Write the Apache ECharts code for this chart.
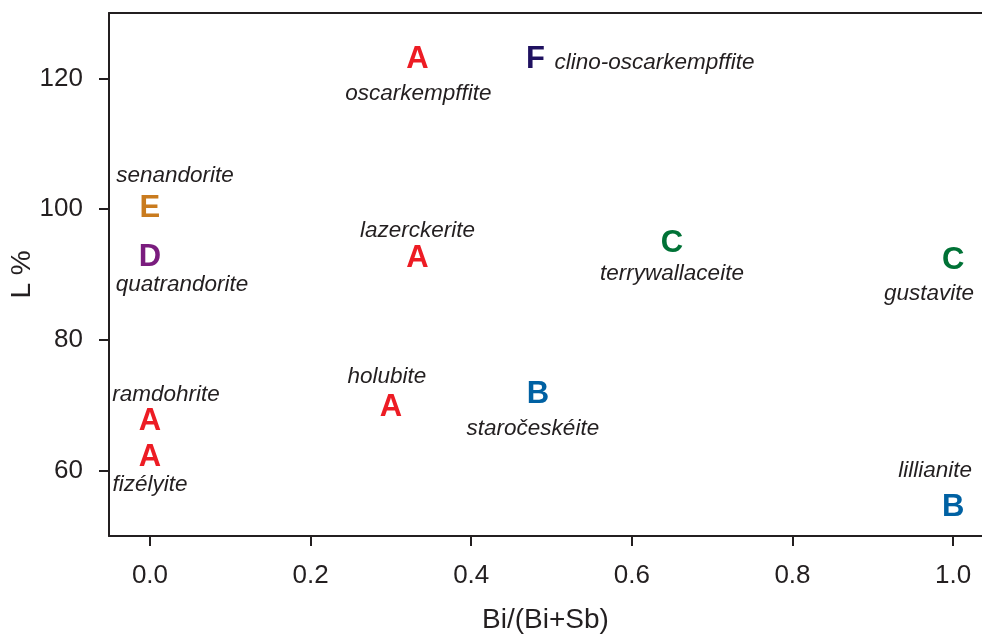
<!DOCTYPE html>
<html>
<head>
<meta charset="utf-8">
<script src="https://cdn.jsdelivr.net/npm/echarts@6/dist/echarts.min.js"></script>
<style>html,body{margin:0;padding:0;background:#fff;}#c{width:982px;height:636px;}</style>
</head>
<body>
<div id="c"></div>
<script>
// ---- data ----
const minerals = ['oscarkempffite','clino-oscarkempffite','senandorite','quatrandorite','lazerckerite','terrywallaceite','gustavite','ramdohrite','fizélyite','holubite','staročeskéite','lillianite'];
const groups = ['A','F','E','D','A','C','C','A','A','A','B','B'];
const biRatio = [0.333, 0.48, 0, 0, 0.333, 0.65, 1.0, 0, 0, 0.30, 0.483, 1.0];
const lPercent = [123.0, 123.0, 100.2, 92.8, 92.6, 94.9, 92.3, 67.7, 62.1, 69.8, 71.8, 54.5];
const xTicks = [0, 0.2, 0.4, 0.6, 0.8, 1.0];
const yTicks = [60, 80, 100, 120];

// ---- styling / layout ----
const groupColors = {A:'#ED1C24', B:'#0061A3', C:'#007236', D:'#7A1C7E', E:'#C97B1E', F:'#1F1160'};
const nameOffsets = [[1,35],[19,4],[25,-32],[32,29],[0,-27],[0,31],[-24,34],[16,-26],[0,28],[-4,-30],[-5,35],[-18,-36]];
const nameAlign = ['center','left','center','center','center','center','center','center','center','center','center','center'];
const FONT = '"Liberation Sans", Arial, Helvetica, sans-serif';

const groupKeys = ['A','B','C','D','E','F'];
const letterSeries = groupKeys.map(g => ({
  type: 'scatter',
  name: g,
  symbolSize: 0,
  silent: true,
  itemStyle: {opacity: 1},
  data: biRatio.map((x, i) => groups[i] === g ? [x, lPercent[i]] : null).filter(d => d),
  label: {
    show: true, position: 'inside', formatter: g, opacity: 1, offset: [0, 1],
    color: groupColors[g], fontFamily: FONT, fontWeight: 'bold', fontSize: 31,
    align: 'center', verticalAlign: 'middle'
  }
}));

const nameSeries = {
  type: 'scatter',
  symbolSize: 0,
  silent: true,
  itemStyle: {opacity: 1},
  data: biRatio.map((x, i) => ({
    value: [x, lPercent[i]],
    name: minerals[i],
    label: {offset: nameOffsets[i], align: nameAlign[i]}
  })),
  label: {
    show: true, position: 'inside', formatter: p => p.name, opacity: 1,
    color: '#231f20', fontFamily: FONT, fontStyle: 'italic', fontSize: 22.5,
    verticalAlign: 'middle'
  }
};

const chart = echarts.init(document.getElementById('c'), null, {renderer: 'canvas'});
chart.setOption({
  animation: false,
  backgroundColor: '#fff',
  grid: {left: 109, right: 0, top: 13, bottom: 100, containLabel: false, outerBoundsMode: 'none'},
  xAxis: [{
    type: 'value', min: -0.051, max: 1.036,
    name: 'Bi/(Bi+Sb)', nameLocation: 'middle', nameGap: 70, nameMoveOverlap: false,
    nameTextStyle: {fontFamily: FONT, fontSize: 28, color: '#231f20'},
    axisLine: {show: true, onZero: false, lineStyle: {color: '#231f20', width: 2}},
    axisTick: {show: true, length: 10, customValues: xTicks, lineStyle: {color: '#231f20', width: 2}},
    axisLabel: {customValues: xTicks, formatter: v => v.toFixed(1), margin: 27,
      fontFamily: FONT, fontSize: 26, color: '#231f20'},
    splitLine: {show: false}
  }, {
    type: 'value', position: 'top', min: -0.051, max: 1.036,
    axisLine: {show: true, onZero: false, lineStyle: {color: '#231f20', width: 2}},
    axisTick: {show: false}, axisLabel: {show: false}, splitLine: {show: false}
  }],
  yAxis: {
    type: 'value', min: 50, max: 130,
    name: 'L %', nameLocation: 'middle', nameGap: 73, nameMoveOverlap: false,
    nameTextStyle: {fontFamily: FONT, fontSize: 28, color: '#231f20'},
    axisLine: {show: true, onZero: false, lineStyle: {color: '#231f20', width: 2}},
    axisTick: {show: true, length: 10, customValues: yTicks, lineStyle: {color: '#231f20', width: 2}},
    axisLabel: {customValues: yTicks, margin: 26, fontFamily: FONT, fontSize: 26, color: '#231f20'},
    splitLine: {show: false}
  },
  series: [nameSeries].concat(letterSeries)
});
</script>
</body>
</html>
